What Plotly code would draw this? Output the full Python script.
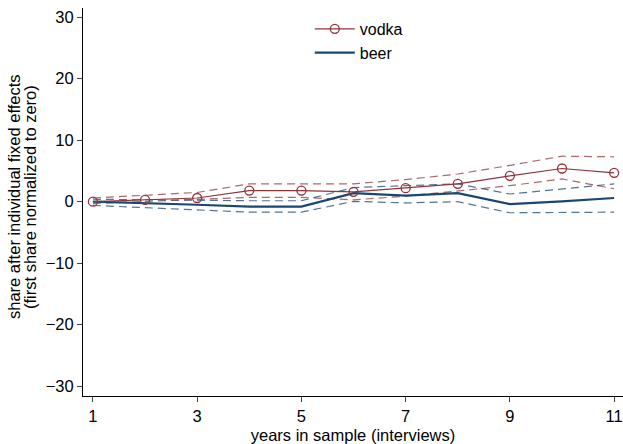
import plotly.graph_objects as go

years = [1, 2, 3, 4, 5, 6, 7, 8, 9, 10, 11]
vodka = [0.0, 0.3, 0.6, 1.8, 1.8, 1.6, 2.2, 2.9, 4.2, 5.4, 4.7]
vodka_hi = [0.6, 1.1, 1.5, 2.9, 2.9, 2.9, 3.6, 4.5, 5.9, 7.4, 7.3]
vodka_lo = [-0.3, 0.05, 0.4, 0.7, 0.7, 0.3, 0.9, 1.7, 2.6, 3.7, 2.1]
beer = [0.0, -0.2, -0.5, -0.8, -0.8, 1.4, 1.0, 1.4, -0.4, 0.05, 0.6]
beer_hi = [0.4, 0.3, 0.2, 0.15, 0.15, 2.3, 2.6, 2.9, 1.25, 2.1, 2.9]
beer_lo = [-0.6, -1.0, -1.3, -1.7, -1.7, 0.05, -0.2, 0.0, -1.8, -1.7, -1.7]
xticks = [1, 3, 5, 7, 9, 11]
yticks = [30, 20, 10, 0, -10, -20, -30]
ytitle = ["share after individual fixed effects", "(first share normalized to zero)"]
xtitle = "years in sample (interviews)"

red = "#90353b"
navy = "#1a476f"
red_l = "rgba(144,53,59,0.75)"
navy_l = "rgba(26,71,111,0.75)"
FS = 16.5

fig = go.Figure()
for ys, c in [(vodka_hi, red_l), (vodka_lo, red_l), (beer_hi, navy_l), (beer_lo, navy_l)]:
    fig.add_trace(go.Scatter(x=years, y=ys, mode="lines", showlegend=False,
                             line=dict(color=c, width=1.2, dash="8px,5px"), hoverinfo="skip"))
fig.add_trace(go.Scatter(x=years, y=beer, mode="lines", name="beer",
                         line=dict(color=navy, width=2.2)))
fig.add_trace(go.Scatter(x=years, y=vodka, mode="lines+markers", name="vodka",
                         line=dict(color=red, width=1.2),
                         marker=dict(symbol="circle-open", size=9, color=red, line=dict(width=1.3))))

for txt, xs in zip(ytitle, [-69, -53]):
    fig.add_annotation(text=txt, xref="paper", yref="paper", x=0, y=0.5, xanchor="center",
                       yanchor="middle", xshift=xs, yshift=5, textangle=-90, showarrow=False,
                       font=dict(size=FS))

fig.update_layout(
    width=623, height=444,
    margin=dict(l=83, r=0, t=8, b=48),
    paper_bgcolor="white", plot_bgcolor="white",
    font=dict(family="Liberation Sans, Arial, sans-serif", size=FS, color="black"),
    legend=dict(x=0.42, y=0.99, xanchor="left", yanchor="top", traceorder="reversed",
                bgcolor="rgba(0,0,0,0)", font=dict(size=16), itemwidth=40, tracegroupgap=0),
    xaxis=dict(range=[0.81, 11.17], tickvals=xticks, ticks="outside", ticklen=5,
               showgrid=False, zeroline=False, showline=True, linecolor="black", linewidth=1,
               title=dict(text=xtitle, standoff=6, font=dict(size=FS)),
               tickfont=dict(size=FS), automargin=False),
    yaxis=dict(range=[-31.6, 31.5], tickvals=yticks, ticks="outside", ticklen=5,
               showgrid=False, zeroline=False, showline=True, linecolor="black", linewidth=1,
               tickfont=dict(size=FS), automargin=False),
)
fig.write_html("out.html", config={"displayModeBar": False},
               post_script="document.body.style.margin='0';document.body.style.overflow='hidden';")
